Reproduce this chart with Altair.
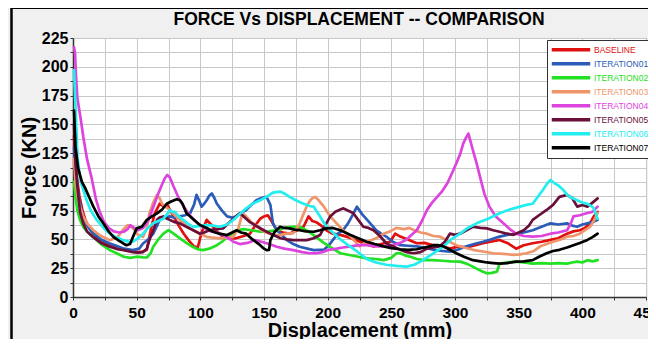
import altair as alt
import pandas as pd

SERIES = ["BASELINE", "ITERATION01", "ITERATION02", "ITERATION03",
          "ITERATION04", "ITERATION05", "ITERATION06", "ITERATION07"]
COLORS = ["#e01010", "#2a5cb8", "#22e022", "#f0956a",
          "#dd44dd", "#6a0f3a", "#22eef0", "#000000"]
TITLE = "FORCE Vs DISPLACEMENT -- COMPARISON"

BASELINE = [(0.8,140),(2,118),(3.5,100),(5,88),(7.5,75),(10,66),(13,60),(16,55),(22,49),(29,45),(35,42),(40,41),(45,40),(50,39),(55,39.5),(58,41),(61,58),(64,72),(68,81),(71,79),(74,80),(79,70),(83,62),(87,55),(91,49),(95,44),(98,43),(101,56),(105,67),(110,61),(114,56),(118,52),(123,51),(128,51),(134,53),(139,55),(143,62),(147,68),(150,70),(153,71),(157,64),(160,58),(165,56),(170,55),(176,58),(181,61),(185,70),(188,66),(191,65),(195,62),(199,58),(204,55),(210,54),(216,52),(223,49),(230,46),(236,44),(242,46),(249,48),(253,55),(257,52.5),(263,50),(270,46.7),(276,47),(283,45),(290,44),(296,42),(303,44),(309,43),(316,45),(322,46.7),(328,48),(335,49.6),(341,47),(348,42),(354,45),(361,46.7),(368,48),(375,49.6),(381,51),(388,55),(393,57),(398,58),(402,60),(406,64),(409,70),(412,74)]

ITERATION01 = [(0.8,130),(2,110),(3.5,95),(5,84),(7.5,72),(10,64),(13,59),(16,55),(22,50),(29,46.5),(35,44),(40,42),(47,40.7),(52,42),(55,46.5),(59,50),(63,55),(66,62),(68,67),(72,69),(76,70),(80,69),(84,70),(88,71),(92,72.7),(95,80),(97,88.7),(99,84),(101,78.5),(103,81),(105,84),(107,88),(109,90),(111,86),(113,81),(117,75),(121,70),(125,69),(128,70),(132,73),(136,75.6),(140,80),(144,84),(148,86),(152,87),(155,80),(157,64),(160,58),(164,54),(168,49.4),(173,46),(178,43.6),(184,42),(189,40.7),(193,41),(197,41),(201,45),(204,49.4),(208,55),(212,58),(216,64),(220,72),(223,78.5),(227,72),(231,67),(235,62),(238,58),(242,55),(246,52.5),(251,48),(257,45),(263,44.5),(270,44),(276,43),(283,41),(290,40),(296,39.4),(302,41),(309,44),(315,46),(322,48),(328,50),(335,52.5),(341,54),(348,55),(354,56),(361,58),(368,61),(375,64),(381,63),(388,64),(392,62),(396,61),(400,63),(404,64),(408,65),(412,67)]

ITERATION02 = [(0.8,100),(2,86),(3.5,75),(5.5,67),(8,61),(11,57),(16,52),(22,46),(29,40.7),(35,37.5),(40,35),(45,34),(50,35),(55,34.5),(58,34.3),(61,38),(63,43.6),(67,50),(71,55),(75,58),(79,55),(84,51),(89,47),(94,43.6),(98,41.5),(102,40.7),(107,42),(113,45),(117,48),(121,52),(125,55),(129,58),(134,59),(140,58),(147,56.7),(153,57),(160,58),(166,60),(172,61),(178,61),(185,57),(191,52),(197,47),(204,42),(210,38),(217,36.5),(224,35),(231,33.6),(238,33),(244,32),(250,34),(254,38),(257,38),(261,36),(265,35),(270,33),(276,32),(283,32),(290,31.5),(297,31),(304,30.7),(309,29),(314,26.4),(318,24),(322,22),(325,20.6),(329,21),(333,22),(335,29),(340,30),(348,30.7),(354,30),(361,29),(368,29.5),(375,29),(381,29.5),(388,29),(392,30),(396,30.7),(400,30),(404,32),(408,31),(412,32)]

ITERATION03 = [(0.8,120),(2,100),(3.5,88),(5.5,78.5),(8,70),(11,64),(16,58),(22,53),(29,49.4),(35,52),(39,58),(43,62.5),(47,60),(51,54),(55,52.3),(58,60),(60,72.7),(63,82),(66,88.7),(68,86),(70,81),(73,78),(76,75.6),(80,71),(84,67),(89,62),(94,58),(100,55),(105,52.3),(110,51.5),(115,51),(121,51.5),(126,52.3),(130,60),(133,72.7),(136,70),(140,65),(144,62),(148,58),(152,56),(157,53.8),(163,54),(168,55),(173,55.5),(176,60),(178,64),(181,72),(184,80),(187,85),(190,87),(193,84),(197,78.5),(202,70),(207,64),(212,58),(218,52.5),(225,44),(231,48),(238,51),(244,55),(249,57),(254,60),(260,59),(264,60),(268,58),(273,56),(278,55),(283,53),(288,52.5),(294,49),(301,45),(307,43),(314,41),(322,39.5),(330,38),(338,37.5),(346,36.6),(351,37),(356,38),(362,40),(367,44),(372,46),(377,48),(383,50),(388,52.5),(393,53),(398,55),(402,58),(406,61),(409,66),(412,73)]

ITERATION04 = [(0.8,217),(1.6,212),(2.2,195),(3.4,173),(6,155),(8.1,139),(11,120),(14.7,103),(18,85),(21,74),(24,66),(28,60),(32,57),(36,56),(40,56.7),(43,59),(45,62.5),(48,60),(51,58),(55,60),(59,66),(63,78),(67,90),(70,98),(72,103),(74,106),(76,104),(79,96),(83,86),(87,78.5),(91,72),(95,67),(99,63),(103,60),(108,57),(113,56),(117,54),(121,52),(126,48),(131,46),(137,47),(143,49.5),(148,48),(154,46),(160,43.6),(166,42),(173,40.7),(180,39),(186,38),(191,38),(196,39),(201,41),(207,42),(212,43),(218,44),(225,45),(231,45),(238,44),(244,44),(251,45),(257,47),(262,50),(266,54),(270,58),(274,66),(278,75.6),(282,82),(286,87),(290,92),(294,98.8),(297,106),(301,116),(304,124),(306.5,133.5),(308.5,138),(310.5,142),(312,136),(314,127.7),(317,116),(319.6,104.6),(323,90),(327,78.5),(332,70),(338,64),(343,59),(348,55),(354,53),(361,52.5),(368,53),(375,55),(381,56),(388,58),(391,64),(393,70),(398,71),(404,73),(408,74),(412,78.5)]

ITERATION05 = [(0.8,150),(2,115),(3.5,95),(5.5,74),(8,64),(11,57),(16,52),(22,47),(29,43.6),(35,41.5),(40,40.7),(47,39),(51,38.5),(55,39),(58,42),(60,49.4),(63,58),(66,67),(68,69),(71,70),(74,68),(76,67),(80,65),(84,64),(89,61),(94.5,58),(99.7,55),(103,56),(107,58),(112,59),(118,59.6),(122,64),(126,68),(129,71),(131,72.7),(134,70),(139,65),(145,61),(152,56.7),(157,54),(163,51),(168,50),(173,49.4),(178,49.4),(183.5,49.4),(189,51),(194,53.8),(198,62),(202,70),(206,74),(210,76),(212,77),(215,75.6),(220,73),(224,67),(228,61),(232,60),(236,58),(241,53),(246,46.7),(251,44),(257,41),(262,39),(267.5,38),(273,39),(278,42),(283,43),(288,44),(292,48),(296,55),(300,54),(304,55),(309,58),(314,61),(320,60),(325,59.6),(330,58),(335,56.7),(341,55),(346,54),(350,56),(354,58),(358,62),(361,67),(366,71),(372,75.6),(377,80),(382,87),(388,88.7),(392,86),(396,78.5),(400,80),(404,78.5),(408,82),(412,85.7)]

ITERATION06 = [(0.8,197),(2,165),(3.5,122),(6,100),(10.7,84),(14,75),(18.6,67),(24,60),(29,55),(34,52),(39.5,49.4),(44,48),(47,48),(51,51),(55,55),(59,60),(63,64),(67,66),(71,68),(74,72),(76,75.6),(78,74),(80,74),(83,70),(86.6,67),(90,64),(94.5,61),(99,61.5),(105,62.5),(110,62),(115.5,61),(121,63),(126,67),(131,72),(136,77),(141,81),(147,84),(152,87),(157,90.7),(162.6,91.6),(166,90),(170,87),(175,84),(181,81),(186,79),(189,78.5),(194,70),(199,61),(204,56),(210,50),(215,46),(220,42),(225,38),(230.6,33),(238,30),(246,28),(254,27),(262,26.4),(268,28),(275,32),(283,38),(291,44),(297,50),(304,55),(310,60),(317,64),(326,68),(335,72.7),(343,76),(351,78.5),(356,80),(361,81),(365,87),(369,93),(372,98),(375,101.7),(378,99),(381,97),(385,93),(388,88.7),(392,86),(396,84),(400,82),(404,81),(407,79),(409,77),(412,68)]

ITERATION07 = [(0.8,162),(2,130),(4,112),(7,100),(9.4,95),(13,86),(16,78.5),(20,70),(23.8,64),(28,57),(31.7,52.3),(36,49),(39.5,46.5),(42,45),(44.8,46),(47,52),(50,59.6),(54,61),(58,67),(62,70),(66,72.7),(70,76),(73.6,81),(77,83),(81.4,85),(84,84),(86,81),(89,73),(94,68),(99.7,62.5),(105,60),(110,56.7),(115,55),(121,53.8),(125,56),(128.5,58),(132,56),(136,55),(141,50),(147,45),(150,42),(152,40.7),(154,41),(155,49.4),(158,56),(162.6,61),(166,60),(170,59.6),(174,58.5),(178,58),(183,57),(189,56.7),(194,58),(199,59.6),(204,60),(210,58),(217.5,54),(224,51),(230.6,48),(237,46),(244,44),(250,42.5),(257,41.5),(263,41),(270,41.5),(276,43),(283,45),(287,45),(291,44),(296,41),(301,38),(307,35),(314,32),(320,31),(325,30),(330,29.5),(335,29),(341,29.5),(348,30.7),(354,31),(361,32),(366,35),(372,38),(377,40),(382,41),(388,43),(393,45),(398,47),(404,49.6),(408,52),(412,55)]

DATA = [BASELINE, ITERATION01, ITERATION02, ITERATION03,
        ITERATION04, ITERATION05, ITERATION06, ITERATION07]

X_TICKS = list(range(0, 451, 25))
Y_TICKS = [i * 12.5 for i in range(19)]

rows = []
for name, pts in zip(SERIES, DATA):
    for i, (d, f) in enumerate(pts):
        rows.append({"series": name, "disp": d, "force": f, "idx": i})
df = pd.DataFrame(rows)

FONT = "Liberation Sans"

lines = alt.Chart(df).mark_line(strokeWidth=2.7, strokeJoin="round", strokeCap="round").encode(
    x=alt.X("disp:Q", title="Displacement (mm)",
            scale=alt.Scale(domain=[0, 450], nice=False, zero=False),
            axis=alt.Axis(values=X_TICKS,
                          labelExpr="datum.value % 50 === 0 ? datum.label : ''",
                          grid=True, gridColor="#c8c8c8", gridWidth=1,
                          domainColor="#333333", domainWidth=1.5,
                          tickColor="#333333", tickSize=3, labelPadding=5,
                          labelFont=FONT, labelFontSize=15.5, labelFontWeight="bold",
                          labelColor="black", labelFlush=False, labelOverlap=False,
                          titleFont=FONT, titleFontSize=20, titleFontWeight="bold",
                          titleColor="black", titleBaseline="alphabetic", titleY=39)),
    y=alt.Y("force:Q", title="Force (KN)",
            scale=alt.Scale(domain=[0, 225], nice=False, zero=False),
            axis=alt.Axis(values=Y_TICKS,
                          labelExpr="datum.value % 25 === 0 ? datum.label : ''",
                          grid=True, gridColor="#c8c8c8", gridWidth=1,
                          domainColor="#333333", domainWidth=1.5,
                          tickColor="#333333", tickSize=3, labelPadding=2,
                          labelFont=FONT, labelFontSize=16, labelFontWeight="bold",
                          labelColor="black", labelFlush=False, labelOverlap=False,
                          titleFont=FONT, titleFontSize=20, titleFontWeight="bold",
                          titleColor="black", titlePadding=2)),
    color=alt.Color("series:N", scale=alt.Scale(domain=SERIES, range=COLORS),
                    legend=alt.Legend(orient="none", legendX=474, legendY=2, title=None,
                                      symbolType="stroke", symbolSize=1480,
                                      symbolStrokeWidth=3.5, clipHeight=13.7,
                                      labelFont=FONT, labelFontSize=8.5,
                                      labelOffset=2, padding=3, rowPadding=0,
                                      fillColor="white", strokeColor="#333333",
                                      labelColor=alt.ExprRef(expr="scale('color', datum.value)"))),
    order="idx:Q",
)

frame_left = alt.Chart(pd.DataFrame({"k": [0]})).mark_rule(color="black", strokeWidth=2.5).encode(
    x=alt.value(-61.5), y=alt.value(-31), y2=alt.value(310))
frame_top = alt.Chart(pd.DataFrame({"k": [0]})).mark_rule(color="black", strokeWidth=2).encode(
    x=alt.value(-62), x2=alt.value(600), y=alt.value(-30))

title = alt.Chart(pd.DataFrame({"t": [TITLE]})).mark_text(
    font=FONT, fontSize=17.5, fontWeight="bold", color="black",
    align="center", baseline="alphabetic").encode(
    text="t:N", x=alt.value(286), y=alt.value(-13))

chart = alt.layer(frame_left, frame_top, lines, title).properties(
    width=573, height=259,
    autosize=alt.AutoSizeParams(type="none"),
    padding={"left": 65, "top": 30, "right": 2, "bottom": 42},
    background="#f0f0f0",
).configure_view(fill="white", stroke="#555555", strokeWidth=1)

chart.save("out.html", embed_options={"renderer": "svg", "actions": False})
